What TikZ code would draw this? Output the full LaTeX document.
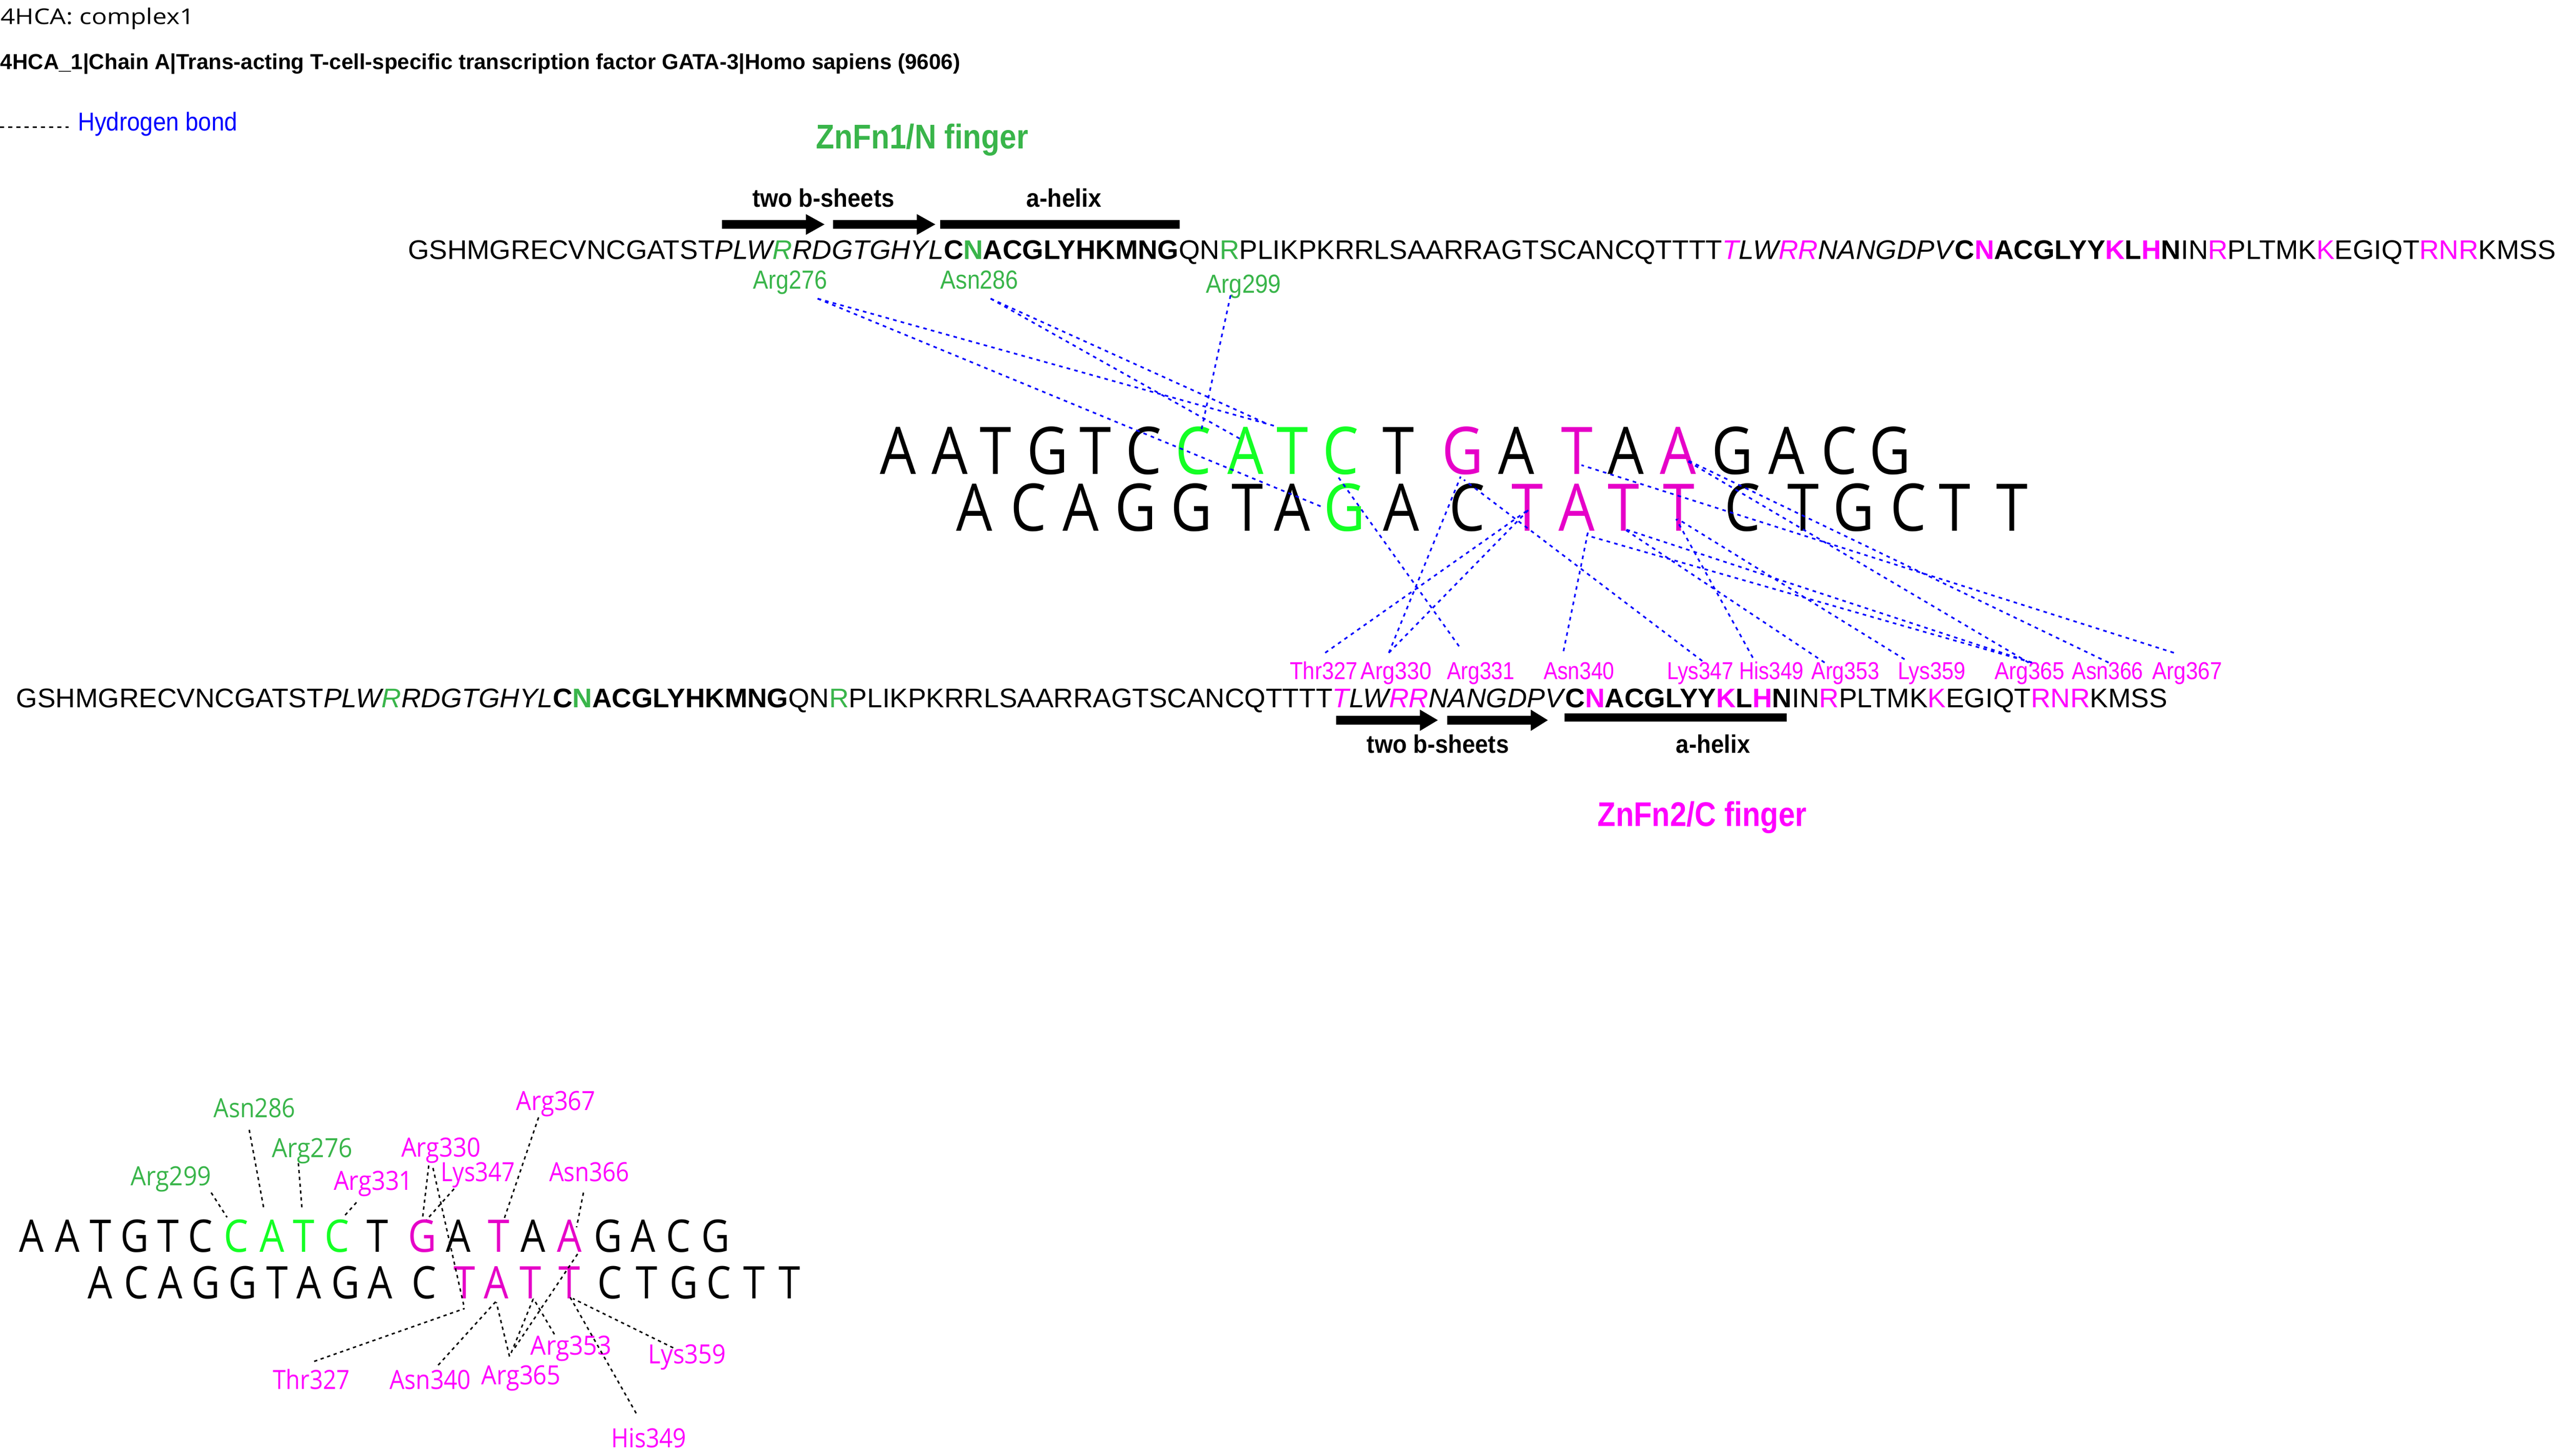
\documentclass[tikz,border=0pt]{standalone}
\usepackage{fontspec}
\usepackage{graphicx}
\setmainfont{Liberation Sans}
\newfontfamily\osans{Open Sans}
\definecolor{lgreen}{RGB}{57,181,74}
\definecolor{lmag}{RGB}{255,0,255}
\definecolor{dgreen}{RGB}{20,255,36}
\definecolor{dmag}{RGB}{230,0,200}
\definecolor{hblue}{RGB}{0,0,255}
\newcommand\hfit[2]{\resizebox{#1pt}{\height}{#2}}
\newcommand\gn[1]{\textcolor{lgreen}{#1}}
\newcommand\mg[1]{\textcolor{lmag}{#1}}
\newcommand\protseq{GSHMGRECVNCGATST\textit{PLW\gn{R}RDGTGHYL}\textbf{C\gn{N}ACGLYHKMNG}QN\gn{R}PLIKPKRRLSAARRAGTSCANCQTTTT\textit{\mg{T}LW\mg{RR}NANGDPV}\textbf{C\mg{N}ACGLYY\mg{K}L\mg{H}N}IN\mg{R}PLTMK\mg{K}EGIQT\mg{RNR}KMSS}
\begin{document}
\begin{tikzpicture}[x=1pt,y=-1pt,
  txt/.style={inner sep=0pt,outer sep=0pt,anchor=base west},
  dna/.style={inner sep=0pt,anchor=base,font=\osans\fontsize{40.2}{44}\selectfont},
  idna/.style={inner sep=0pt,anchor=base,font=\osans\fontsize{27.5}{30}\selectfont},
  hb/.style={hblue,line width=1pt,dash pattern=on 2.2pt off 2.6pt},
  ihb/.style={black,line width=0.9pt,dash pattern=on 2pt off 2.2pt}]
\fill[white] (0,0) rectangle (1568,892);
\useasboundingbox (0,0) rectangle (1568,892);

% header
\node[txt] (title) at (0.5,14.8) {\osans\fontsize{13.3}{16}\selectfont\hfit{118.5}{4HCA: complex1}};
\node[txt] (chain) at (0.3,42.6) {\bfseries\fontsize{13.3}{16}\selectfont\hfit{588}{4HCA\_1|Chain A|Trans-acting T-cell-specific transcription factor GATA-3|Homo sapiens (9606)}};
\coordinate (lg1) at (0,78);
\coordinate (lg2) at (42,78);
\draw[black,line width=1pt,dash pattern=on 2.5pt off 2.5pt] (lg1) -- (lg2);
\node[txt,text=hblue] (legend) at (47.7,80) {\fontsize{15.8}{18}\selectfont\hfit{97.8}{Hydrogen bond}};

% finger titles
\node[txt,text=lgreen] (zn1) at (500,91) {\bfseries\fontsize{21}{24}\selectfont\hfit{130}{ZnFn1/N finger}};
\node[txt,text=lmag] (zn2) at (979,506.4) {\bfseries\fontsize{21}{24}\selectfont\hfit{128}{ZnFn2/C finger}};

% secondary structure, line 1
\node[txt] (bs1) at (461,126.9) {\bfseries\fontsize{15.6}{18}\selectfont\hfit{87}{two b-sheets}};
\node[txt] (ah1) at (629,126.9) {\bfseries\fontsize{15.6}{18}\selectfont\hfit{46}{a-helix}};
\fill (442.4,134.9) -- (493.8,134.9) -- (493.8,131.2) -- (505.2,137.5) -- (493.8,143.9) -- (493.8,140.1) -- (442.4,140.1) -- cycle;
\fill (510.4,134.9) -- (561.8,134.9) -- (561.8,131.2) -- (573.1,137.5) -- (561.8,143.9) -- (561.8,140.1) -- (510.4,140.1) -- cycle;
\fill (576.2,134.9) rectangle (722.7,140.1);

% secondary structure, line 2
\fill (818.7,438.6) -- (870,438.6) -- (870,434.8) -- (881,441.3) -- (870,447.9) -- (870,444) -- (818.7,444) -- cycle;
\fill (886.7,438.6) -- (937.9,438.6) -- (937.9,434.8) -- (948.4,441.3) -- (937.9,447.9) -- (937.9,444) -- (886.7,444) -- cycle;
\fill (958.8,437) rectangle (1094.9,442.2);
\node[txt] (bs2) at (837.6,461.5) {\bfseries\fontsize{15.6}{18}\selectfont\hfit{87}{two b-sheets}};
\node[txt] (ah2) at (1027,461.5) {\bfseries\fontsize{15.6}{18}\selectfont\hfit{45.3}{a-helix}};

% protein sequences
\node[txt] (seq1) at (250,158.7) {\fontsize{16.5}{19}\selectfont\hfit{1316}{\protseq}};
\node[txt] (seq2) at (10,433.5) {\fontsize{16.5}{19}\selectfont\hfit{1318}{\protseq}};

% residue labels, top
\node[txt,text=lgreen] (r276) at (461.5,176.9) {\fontsize{16}{19}\selectfont\hfit{45.3}{Arg276}};
\node[txt,text=lgreen] (n286) at (576.3,176.9) {\fontsize{16}{19}\selectfont\hfit{47.7}{Asn286}};
\node[txt,text=lgreen] (r299) at (738.9,179.4) {\fontsize{16}{19}\selectfont\hfit{46.1}{Arg299}};

% residue labels, bottom
\foreach \lab/\xa/\w in {Thr327/790.4/41.5, Arg330/833.8/43.4, Arg331/886.6/41.5, Asn340/945.9/43.3, Lys347/1021.4/40.8, His349/1065.6/39.6, Arg353/1110.1/41.4, Lys359/1162.9/41.5, Arg365/1222.2/42.7, Asn366/1269.7/43.5, Arg367/1318.8/42.8}
  \node[txt,text=lmag] (m\lab) at (\xa,416.4) {\fontsize{15}{18}\selectfont\hfit{\w}{\lab}};

% DNA, main
\foreach \xa/\lt/\cl [count=\i] in {550.2/A/black, 581.9/A/black, 609.9/T/black, 641.9/G/black, 671.2/T/black, 700.9/C/black, 731.2/C/dgreen, 763.2/A/dgreen, 791.9/T/dgreen, 821.6/C/dgreen, 857.0/T/black, 896.4/G/dmag, 929.0/A/black, 966.2/T/dmag, 996.3/A/black, 1028.2/A/dmag, 1061.4/G/black, 1094.6/A/black, 1127.1/C/black, 1158.1/G/black}
  \node[dna,text=\cl] (t\i) at (\xa,290.4) {\scalebox{0.87}[1]{\lt}};
\foreach \xa/\lt/\cl [count=\i] in {597.0/A/black, 630.1/C/black, 662.1/A/black, 695.8/G/black, 730.2/G/black, 764.2/T/black, 791.9/A/black, 823.9/G/dgreen, 858.6/A/black, 899.1/C/black, 935.8/T/dmag, 966.2/A/dmag, 994.7/T/dmag, 1028.8/T/dmag, 1067.6/C/black, 1104.8/T/black, 1135.8/G/black, 1169.3/C/black, 1197.8/T/black, 1232.9/T/black}
  \node[dna,text=\cl] (b\i) at (\xa,325.3) {\scalebox{0.87}[1]{\lt}};

% hydrogen bonds, main
\foreach \xa/\ya/\xb/\yb [count=\i] in {501/183/781/261, 501/183/811/311, 607/183/777/260, 607/183/760/269, 754/181/736/264, 812/400/937/312, 851/400/937/312, 851/400/895/292, 894/396/819/291, 958/399/973/326, 1043/405/897/294, 1074/403/1027/318, 1118/406/995/324, 1167/404/1028/318, 1245/406/972/328, 1245/406/995/324, 1243/406/1033/282, 1292/406/1034/282, 1332/400/969/285}
{
  \coordinate (hs\i) at (\xa,\ya);
  \coordinate (he\i) at (\xb,\yb);
  \draw[hb] (hs\i) -- (he\i);
}

% inset DNA
\foreach \xa/\lt/\cl [count=\i] in {19.4/A/black, 41.4/A/black, 61.5/T/black, 82.5/G/black, 102.9/T/black, 122.9/C/black, 144.9/C/dgreen, 166.6/A/dgreen, 186.0/T/dgreen, 206.4/C/dgreen, 231.3/T/black, 258.8/G/dmag, 280.8/A/black, 305.7/T/dmag, 326.8/A/black, 348.8/A/dmag, 372.7/G/black, 394.0/A/black, 415.7/C/black, 438.4/G/black}
  \node[idna,text=\cl] (it\i) at (\xa,767.3) {\scalebox{0.87}[1]{\lt}};
\foreach \xa/\lt/\cl [count=\i] in {61.5/A/black, 83.5/C/black, 104.2/A/black, 126.2/G/black, 148.8/G/black, 169.8/T/black, 189.3/A/black, 211.9/G/black, 232.9/A/black, 259.8/C/black, 284.7/T/dmag, 304.1/A/dmag, 325.1/T/dmag, 348.8/T/dmag, 373.7/C/black, 396.3/T/black, 419.0/G/black, 440.6/C/black, 462.0/T/black, 483.7/T/black}
  \node[idna,text=\cl] (ib\i) at (\xa,795.7) {\scalebox{0.87}[1]{\lt}};

% inset labels
\foreach \lab/\xa/\ya/\w/\cl in {Asn286/131/684.7/50/lgreen, Arg276/166.6/709.2/49.5/lgreen, Arg299/80.2/726.3/49.2/lgreen, Arg330/245.9/708.9/48.5/lmag, Lys347/270.1/724/45.3/lmag, Arg331/204.5/729.3/48.5/lmag, Arg367/316.4/680.2/48.5/lmag, Asn366/336.5/724/49.1/lmag, Thr327/167.3/851.1/46.9/lmag, Asn340/238.8/851.1/49.8/lmag, Arg365/295/848.3/48.6/lmag, Arg353/325.1/830.2/49.5/lmag, Lys359/397.3/835.7/47.5/lmag, His349/374.6/887.1/46/lmag}
  \node[txt,text=\cl] (i\lab) at (\xa,\ya) {\osans\fontsize{16.2}{19}\selectfont\hfit{\w}{\lab}};

% inset bonds
\foreach \xa/\ya/\xb/\yb [count=\i] in {129.4/730.8/139.1/745.9, 152.7/692.3/161.8/741.4, 182.8/712.7/185.1/741.4, 218.4/736.8/210.3/745.9, 262.7/714.2/258.8/747.4, 265.3/715.7/284.1/799.5, 278.2/728.5/261.4/747.4, 330/684.7/309/746.6, 357.5/730.8/353.3/752, 192.5/834.2/284.7/801.8, 268.5/836.5/304.1/797.2, 312.2/831.2/304.1/798, 313.2/829/326.8/795.7, 315.4/825.9/354.3/767.8, 339.7/817.6/326.8/795.7, 389.8/866/349.4/795, 412.5/825.9/351/795.7}
{
  \coordinate (is\i) at (\xa,\ya);
  \coordinate (ie\i) at (\xb,\yb);
  \draw[ihb] (is\i) -- (ie\i);
}
\end{tikzpicture}
\end{document}
